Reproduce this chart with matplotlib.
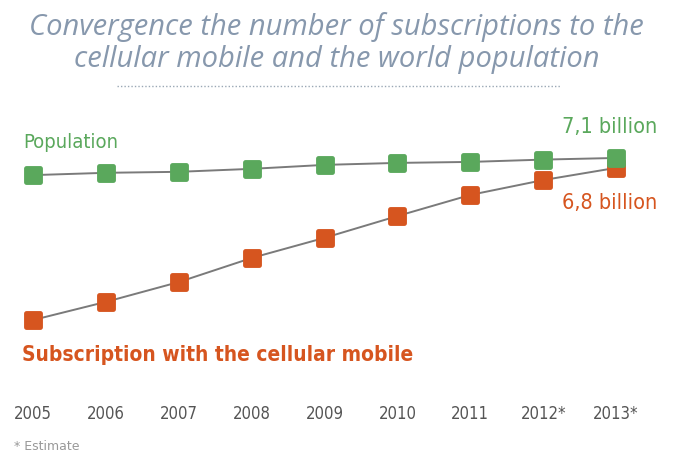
import matplotlib
matplotlib.use("Agg")
import matplotlib.pyplot as plt
from matplotlib.markers import MarkerStyle

years = ["2005", "2006", "2007", "2008", "2009", "2010", "2011", "2012*", "2013*"]
population = [6.58, 6.65, 6.68, 6.77, 6.89, 6.95, 6.98, 7.05, 7.10]
subscriptions = [2.19, 2.74, 3.34, 4.07, 4.68, 5.34, 5.98, 6.43, 6.80]

GREEN = "#5aa85c"
RED = "#d6551f"
GRAY_LINE = "#7a7a7a"
TITLE_C = "#8798ad"

fig = plt.figure(figsize=(6.73, 4.58), dpi=100)
fig.patch.set_facecolor("white")

ax = fig.add_axes([0, 0.1485, 1, 0.5895])
x = list(range(len(years)))
ms = MarkerStyle("s", joinstyle="round")
ax.plot(x, subscriptions, color=GRAY_LINE, lw=1.4, zorder=1)
ax.plot(x, population, color=GRAY_LINE, lw=1.4, zorder=1)
ax.plot(x, subscriptions, ls="none", marker=ms, ms=10.5, mew=3.5, color=RED, mec=RED, zorder=2)
ax.plot(x, population, ls="none", marker=ms, ms=10.5, mew=3.5, color=GREEN, mec=GREEN, zorder=3)

ax.set_xlim(-0.453, 8.78)
ax.set_ylim(0.07, 8.25)
ax.set_xticks(x)
ax.set_xticklabels(years, family="DejaVu Sans", fontstretch="condensed", fontsize=12, color="#555555")
ax.tick_params(axis="x", length=0, pad=11)
ax.set_yticks([])
for s in ax.spines.values():
    s.set_visible(False)

# title
for yy, line in [(27, "Convergence the number of subscriptions to the"),
                 (60, "cellular mobile and the world population")]:
    fig.text(0.5, 1 - yy / 458, line, ha="center", va="center", fontsize=21,
             style="italic", fontweight="medium",
             family=["Open Sans", "DejaVu Sans"], color=TITLE_C)
fig.add_artist(plt.Line2D([117 / 673, 560 / 673], [1 - 86 / 458, 1 - 86 / 458],
                          color="#9aa8b5", lw=1.0, ls=(0, (1, 1.5))))

# annotations
fig.text(23 / 673, 1 - 143 / 458, "Population", ha="left", va="center",
         fontsize=14.5, family="DejaVu Sans", fontstretch="condensed", color=GREEN)
fig.text(657 / 673, 1 - 127 / 458, "7,1 billion", ha="right", va="center",
         fontsize=15.5, family="DejaVu Sans", fontstretch="condensed", color=GREEN)
fig.text(657 / 673, 1 - 203 / 458, "6,8 billion", ha="right", va="center",
         fontsize=15.5, family="DejaVu Sans", fontstretch="condensed", color=RED)
fig.text(22 / 673, 1 - 355 / 458, "Subscription with the cellular mobile", ha="left",
         va="center", fontsize=15, family="DejaVu Sans", fontstretch="condensed",
         fontweight="bold", color=RED)
fig.text(14 / 673, 1 - 447 / 458, "* Estimate", ha="left", va="center",
         fontsize=9, family="DejaVu Sans", color="#999999")

fig.savefig("out.png", dpi=100, facecolor="white")
